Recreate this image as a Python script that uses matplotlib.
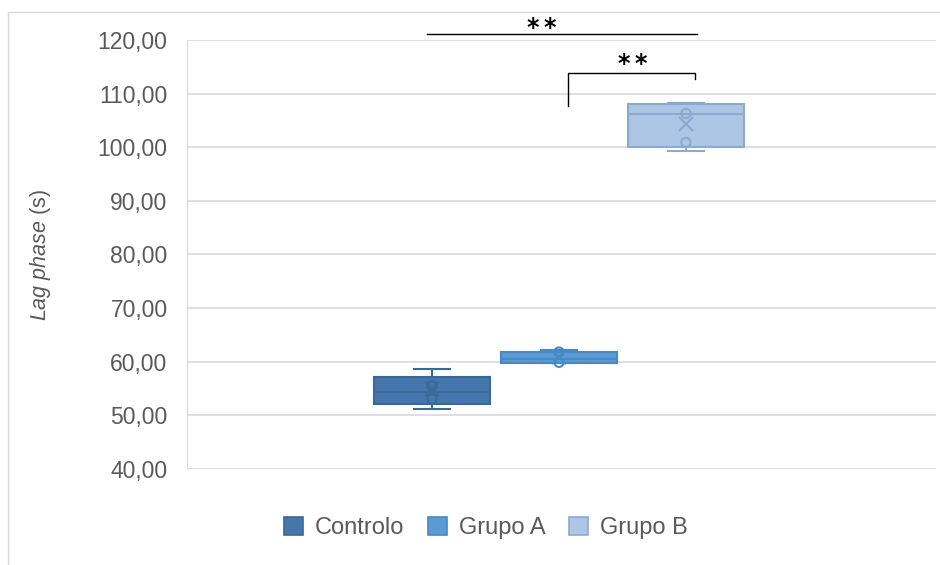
import matplotlib.pyplot as plt
from matplotlib.patches import Patch, Rectangle
from matplotlib.transforms import offset_copy

plt.rcParams['font.family'] = ['Liberation Sans', 'DejaVu Sans']
plt.rcParams['mathtext.fontset'] = 'custom'
plt.rcParams['mathtext.it'] = 'Liberation Sans:italic'
plt.rcParams['mathtext.rm'] = 'Liberation Sans'

groups = ["Controlo", "Grupo A", "Grupo B"]
whislo = [51.2, 59.8, 99.3]
q1 = [52.1, 59.8, 100.0]
med = [54.4, 60.6, 106.2]
q3 = [57.2, 61.8, 108.0]
whishi = [58.7, 62.1, 108.3]
means = [54.9, 60.9, 104.4]
inner_pts = [[55.5, 53.1], [61.8, 59.9], [106.3, 100.9]]

fills = ["#4677AC", "#5B9BD5", "#ADC6E6"]
edges = ["#3A6898", "#4A88C2", "#8DA9CE"]

fig = plt.figure(figsize=(9.4, 5.65), dpi=100)
ax = fig.add_axes([187 / 940, 1 - 469 / 565, (936 - 187) / 940, 429 / 565])

# light frame around the chart, like the Excel chart area
fig.patches.append(Rectangle((8 / 940, -0.1), 1.2, 1 - 12 / 565 + 0.1,
                             transform=fig.transFigure, fill=False,
                             edgecolor="#D9D9D9", linewidth=1))

for i, g in enumerate(groups):
    stats = [dict(whislo=whislo[i], q1=q1[i], med=med[i], q3=q3[i],
                  whishi=whishi[i], mean=means[i], fliers=[], label=g)]
    ec = edges[i]
    ax.bxp(stats, positions=[i], widths=0.92, patch_artist=True, showmeans=True,
           boxprops=dict(facecolor=fills[i], edgecolor=ec, linewidth=1.5),
           medianprops=dict(color=ec, linewidth=1.5),
           whiskerprops=dict(color=ec, linewidth=1.5),
           capprops=dict(color=ec, linewidth=1.5),
           capwidths=0.28,
           meanprops=dict(marker="x", markeredgecolor=ec, markersize=10,
                          markeredgewidth=1.6),
           zorder=3)
    ax.scatter([i] * len(inner_pts[i]), inner_pts[i], s=45, facecolors="none",
               edgecolors=ec, linewidths=1.5, zorder=4)

ax.set_xlim(-1.93, 3.97)
ax.set_ylim(40, 120)
ax.set_yticks(range(40, 121, 10))
ax.set_yticklabels([f"{v},00" for v in range(40, 121, 10)])
ax.set_xticks([])
ax.tick_params(axis="y", length=0, pad=14, labelsize=16.5, labelcolor="#595959")
ax.grid(axis="y", color="#D9D9D9", linewidth=1.2, zorder=0)
ax.set_axisbelow(True)
for s in ["top", "right", "bottom"]:
    ax.spines[s].set_visible(False)
ax.spines["left"].set_color("#D9D9D9")

ax.set_ylabel(r"$\it{Lag\ phase}$ (s)", fontsize=15.5, color="#595959", labelpad=32)


def stars(x, y):
    # two bold asterisks, a little apart
    for dx in (-8.5, 8.5):
        tr = offset_copy(ax.transData, fig=fig, x=dx, y=0, units="dots")
        ax.text(x, y, "*", transform=tr, ha="center", va="baseline",
                fontsize=17, fontweight="bold", family="DejaVu Sans",
                clip_on=False)


# significance brackets
ax.plot([-0.04, 2.09], [121.1, 121.1], color="black", lw=1, clip_on=False)
stars(0.86, 120.95)
ax.plot([1.07, 1.07, 2.07, 2.07], [107.7, 113.85, 113.85, 112.7],
        color="black", lw=1, clip_on=False)
stars(1.58, 114.2)

handles = [Patch(facecolor=fills[i], edgecolor=edges[i], linewidth=1.2, label=g)
           for i, g in enumerate(groups)]
fig.legend(handles=handles, loc="center", bbox_to_anchor=(486 / 940, 1 - 528 / 565),
           ncol=3, frameon=False, fontsize=17, handlelength=0.8, handleheight=0.8,
           handletextpad=0.5, columnspacing=1.0, labelcolor="#595959")

fig.savefig("out.png", dpi=100)
